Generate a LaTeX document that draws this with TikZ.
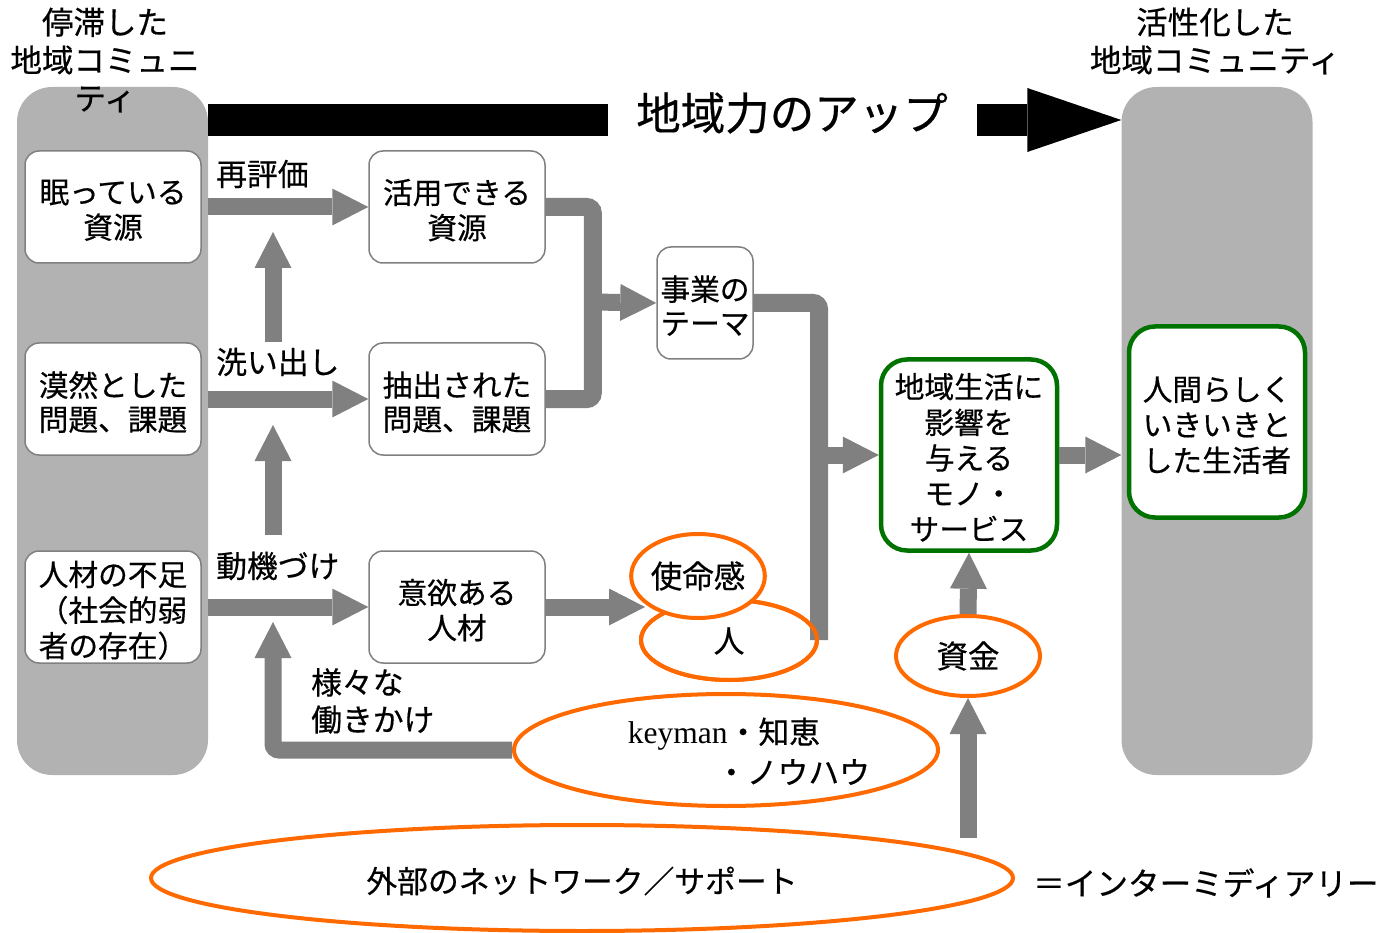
\documentclass[tikz,border=0pt]{standalone}
\usepackage{fontspec}
\setmainfont{Noto Sans CJK JP}[FakeBold=0.5]
\newfontfamily\serifen{Liberation Serif}
\usetikzlibrary{arrows.meta,shapes.geometric}
\definecolor{colgray}{HTML}{B2B2B2}
\definecolor{argray}{HTML}{808080}
\definecolor{grn}{HTML}{007200}
\definecolor{org}{HTML}{FF6A00}
\newcommand\fbody{\fontsize{29.7pt}{34pt}\selectfont}
\newcommand\flab{\fontsize{30.8pt}{37pt}\selectfont}
\newcommand\lw[1]{\raisebox{-7pt}[\height][\depth]{\begin{tabular}{@{}c@{}}#1\end{tabular}}}
\begin{document}
\begin{tikzpicture}[x=1pt,y=-1pt,
  column/.style={fill=colgray, rounded corners=35pt, minimum width=191pt, minimum height=688pt, inner sep=0pt},
  box/.style={draw=argray, line width=1.5pt, fill=white, rounded corners=14pt, minimum width=176pt, minimum height=112pt, inner sep=0pt, font=\fbody},
  gbox/.style={draw=grn, line width=4.5pt, fill=white, rounded corners=26pt, minimum width=176pt, minimum height=191pt, inner sep=0pt, font=\fontsize{29.7pt}{35.5pt}\selectfont},
  oval/.style={ellipse, draw=org, line width=4pt, fill=white, inner sep=0pt, font=\flab},
  lab/.style={inner sep=0pt, font=\flab},
  gline/.style={draw=argray, line width=18pt, rounded corners=6pt},
  garrow/.style={draw=argray, line width=17pt, -{Triangle[width=37pt,length=36pt,line width=0pt]}},
  barrow/.style={draw=black, line width=32pt}
]
\useasboundingbox (0,0) rectangle (1382,933);

% columns
\node[column] (colL) at (112.5,431) {};
\node[column] (colR) at (1217,431) {};
\node[lab, align=center, font=\fontsize{31.5pt}{38pt}\selectfont] (lblL) at (105,60) {停滞した\\地域コミュニ\\ティ};
\node[lab, align=center, font=\fontsize{31.5pt}{38pt}\selectfont] (lblR) at (1215,41) {活性化した\\地域コミュニティ};

% black arrow
\coordinate (ba) at (608,120);
\coordinate (bb) at (977,120);
\draw[barrow] (colL.east |- ba) -- (ba);
\draw[barrow, -{Triangle[width=64pt,length=94pt,line width=0pt]}] (bb) -- (colR.west |- bb);
\node[lab, font=\fontsize{44.5pt}{50pt}\selectfont] (title) at (792,113) {地域力のアップ};

% boxes
\node[box] (n1) at (113,207) {\lw{眠っている\\資源}};
\node[box] (n2) at (113,399) {\lw{漠然とした\\問題、課題}};
\node[box] (n3) at (113,607) {\lw{人材の不足\\（社会的弱\\者の存在）}};
\node[box] (m1) at (457,207) {\lw{活用できる\\資源}};
\node[box] (m2) at (457,399) {\lw{抽出された\\問題、課題}};
\node[box] (m3) at (457,607) {\lw{意欲ある\\人材}};
\node[box, minimum width=96pt] (theme) at (705,303) {\lw{事業の\\テーマ}};
\node[gbox] (goods) at (969,455) {\lw{地域生活に\\影響を\\与える\\モノ・\\サービス}};
\node[gbox] (life) at (1217,422) {\lw{人間らしく\\いきいきと\\した生活者}};

% labels
\node[lab, anchor=west] (l1) at (216,174) {再評価};
\node[lab, anchor=west] (l2) at (216,362) {洗い出し};
\node[lab, anchor=west] (l3) at (216,566) {動機づけ};
\node[lab, anchor=north west, align=left] (l4) at (311,668) {様々な\\働きかけ};
\node[lab, anchor=west, font=\fontsize{31.6pt}{38pt}\selectfont] (l5) at (1033,883) {＝インターミディアリー};

% gray connectors
\coordinate (u1s) at (273,342);
\coordinate (u1e) at (273,232);
\coordinate (u2s) at (273,535);
\coordinate (u2e) at (273,425);
\coordinate (u3e) at (273,622);
\coordinate (j1) at (592,302);
\coordinate (j2) at (817,455);
\coordinate (fs) at (968,838);

\draw[garrow] (colL.east |- n1.east) -- (m1.west);
\draw[garrow] (colL.east |- n2.east) -- (m2.west);
\draw[garrow] (colL.east |- n3.east) -- (m3.west);
\draw[garrow] (u1s) -- (u1e);
\draw[garrow] (u2s) -- (u2e);
\draw[gline] (m1.east) -- ++(47,0) |- (m2.east);
\draw[garrow] (j1) -- (theme.west);
\draw[garrow] (j2) -- (goods.west);
\draw[garrow] (goods.east) -- (colR.west |- goods.east);

% ovals
\node[oval, minimum width=176pt, minimum height=80pt] (hito) at (729,640) {};
\draw[gline] (theme.east) -| (hito.east);
\draw[garrow] (m3.east) -- ([xshift=6pt]hito.west |- m3.east);
\node[oval, minimum width=176pt, minimum height=80pt, fill=none] (hito2) at (729,640) {};
\node[lab] (hitot) at (729,641) {人};
\node[oval, minimum width=116pt, minimum height=84pt, font=\fontsize{31.5pt}{36pt}\selectfont] (shimei) at (698,576) {使命感};
\node[oval, minimum width=144pt, minimum height=80pt, font=\fontsize{31.5pt}{36pt}\selectfont] (shikin) at (968,656) {資金};
\node[oval, minimum width=424pt, minimum height=112pt] (keyman) at (726,750) {};
\node[lab] (k1) at (724,734) {{\serifen\fontsize{31.5pt}{36pt}\selectfont keyman}・知恵};
\node[lab] (k2) at (793,772) {・ノウハウ};
\node[oval, minimum width=862pt, minimum height=106pt] (net) at (582,878) {};
\node[lab] (nett) at (582,881) {外部のネットワーク／サポート};

\draw[garrow, rounded corners=6pt] (keyman.west) -| (u3e);
\draw[garrow] (shikin.north) -- (goods.south);
\draw[garrow] (fs) -- (shikin.south);
\end{tikzpicture}
\end{document}
